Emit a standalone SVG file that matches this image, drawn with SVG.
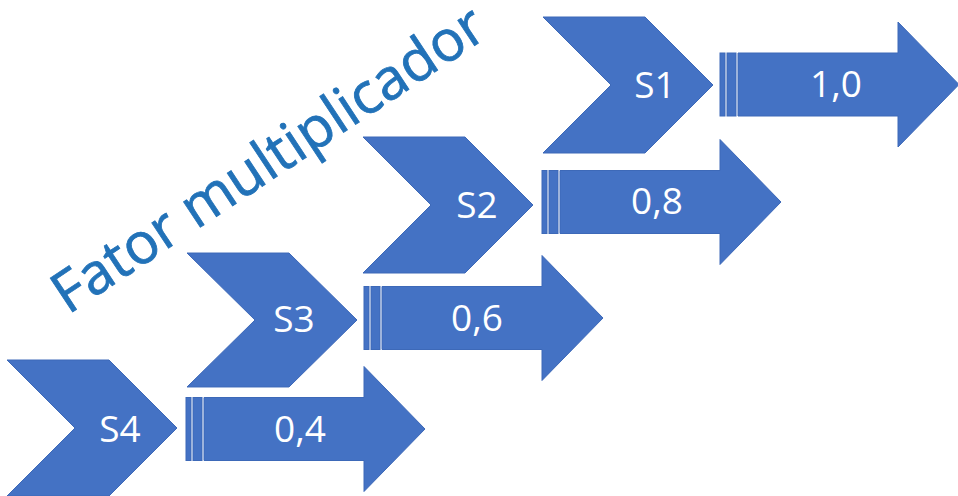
<svg xmlns="http://www.w3.org/2000/svg" width="958" height="496" viewBox="0 0 958 496">
<defs>
<style>
.shp{fill:#4472C4;stroke:#3D69B8;stroke-width:1}
.lbl{fill:#FFFFFF;font-family:"Open Sans","Noto Sans",sans-serif;font-size:37px;text-anchor:middle}
.title{fill:#2272B8;stroke:#2272B8;stroke-width:0.8;font-family:"Open Sans","Noto Sans",sans-serif;font-size:57px}
</style>
<polygon id="chev" points="0,-68 102,-68 170,0 102,68 0,68 68,0"/>
<g id="sarrow">
<rect x="0" y="-31.5" width="5" height="63"/>
<rect x="7" y="-31.5" width="9" height="63"/>
<polygon points="18,-31.5 178,-31.5 178,-62.5 239,0 178,62.5 178,31.5 18,31.5"/>
</g>
</defs>
<rect width="958" height="496" fill="#FFFFFF"/>
<text class="title" transform="translate(68,315) rotate(-33.5)" textLength="506" lengthAdjust="spacing">Fator multiplicador</text>
<g id="node-s1">
<use href="#chev" class="shp" transform="translate(543,85)"/>
<text class="lbl" x="655" y="98">S1</text>
</g>
<g id="node-s2">
<use href="#chev" class="shp" transform="translate(363,205)"/>
<text class="lbl" x="477" y="218">S2</text>
</g>
<g id="node-s3">
<use href="#chev" class="shp" transform="translate(187,320) scale(1,0.985)"/>
<text class="lbl" x="294" y="332">S3</text>
</g>
<g id="node-s4">
<use href="#chev" class="shp" transform="translate(7,428)"/>
<text class="lbl" x="120" y="442">S4</text>
</g>
<g id="connectors">
<g id="arrow-10">
<use href="#sarrow" class="shp" transform="translate(720,84.5)"/>
<text class="lbl" x="836" y="97">1,0</text>
</g>
<g id="arrow-08">
<use href="#sarrow" class="shp" transform="translate(542,202)"/>
<text class="lbl" x="657" y="214">0,8</text>
</g>
<g id="arrow-06">
<use href="#sarrow" class="shp" transform="translate(364,318)"/>
<text class="lbl" x="477" y="331">0,6</text>
</g>
<g id="arrow-04">
<use href="#sarrow" class="shp" transform="translate(186,429)"/>
<text class="lbl" x="300" y="442">0,4</text>
</g>
</g>
</svg>
